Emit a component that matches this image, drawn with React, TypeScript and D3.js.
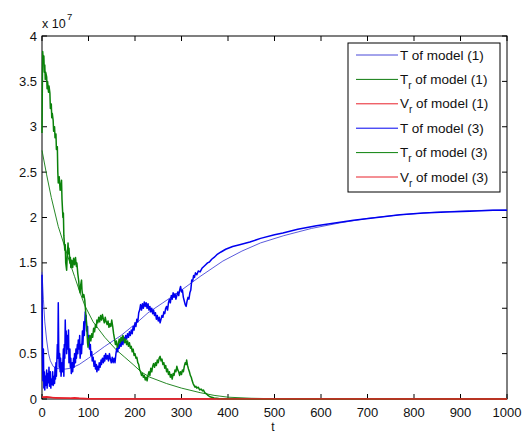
import React from "react";
import * as d3 from "d3";

const xTicks = [0, 100, 200, 300, 400, 500, 600, 700, 800, 900, 1000];
const yTicks = [0, 0.5, 1, 1.5, 2, 2.5, 3, 3.5, 4];
const yTickLabels = ["0", "0.5", "1", "1.5", "2", "2.5", "3", "3.5", "4"];
const legendMain = ["T", "T", "V", "T", "T", "V"];
const legendSub = ["", "r", "r", "", "r", "r"];
const legendTail = [" of model (1)", " of model (1)", " of model (1)", " of model (3)", " of model (3)", " of model (3)"];

// values in units of 1e7
const T1: [number, number][] = [
  [0, 1.4], [3, 1.1], [6, 0.85], [10, 0.65], [14, 0.5], [18, 0.42], [24, 0.36], [30, 0.34], [40, 0.33],
  [50, 0.33], [63, 0.34], [80, 0.38], [100, 0.45], [135, 0.58], [170, 0.7], [206, 0.85], [228, 0.95],
  [260, 1.06], [300, 1.2], [340, 1.35], [389, 1.52], [430, 1.63], [470, 1.72], [520, 1.8], [580, 1.88],
  [640, 1.94], [700, 1.99], [770, 2.03], [850, 2.06], [920, 2.075], [1000, 2.085],
];

const Tr1: [number, number][] = [
  [0, 2.74], [10, 2.47], [20, 2.22], [35, 1.9], [50, 1.66], [60, 1.5], [70, 1.35], [82, 1.17], [92, 1.03],
  [110, 0.85], [135, 0.68], [160, 0.54], [178, 0.46], [196, 0.38], [213, 0.3], [232, 0.24], [268, 0.17],
  [300, 0.12], [340, 0.07], [370, 0.04], [400, 0.02], [450, 0.008], [500, 0.003], [550, 0], [1000, 0],
];

const Vr1: [number, number][] = [
  [0, 0.02], [30, 0.015], [60, 0.008], [100, 0.004], [200, 0.001], [1000, 0.001],
];

const T3: [number, number][] = [
  [0, 1.37], [1, 0.45], [2, 0.2], [3, 0.55], [4, 0.12], [5, 0.3], [6, 0.1], [7, 0.25], [8, 0.15], [10, 0.32],
  [11, 0.12], [12, 0.28], [14, 0.18], [15, 0.35], [16, 0.14], [18, 0.3], [19, 0.12], [20, 0.22], [22, 0.16],
  [23, 0.3], [24, 0.15], [26, 0.25], [27, 0.17], [28, 0.35], [29, 0.22], [30, 0.4], [31, 0.25], [33, 0.6],
  [34, 0.45], [35, 1.06], [36, 0.55], [37, 0.35], [38, 0.5], [39, 0.3], [40, 0.45], [41, 0.25], [43, 0.4],
  [44, 0.3], [46, 0.55], [47, 0.25], [48, 0.6], [49, 0.45], [50, 0.87], [51, 0.6], [52, 0.75], [53, 0.5],
  [55, 0.7], [56, 0.55], [57, 0.76], [58, 0.4], [60, 0.55], [61, 0.35], [62, 0.45], [63, 0.28], [65, 0.4],
  [66, 0.3], [68, 0.45], [69, 0.35], [70, 0.5], [72, 0.4], [73, 0.55], [74, 0.45], [76, 0.6], [77, 0.5],
  [78, 0.65], [80, 0.55], [81, 0.7], [82, 0.45], [84, 0.6], [85, 0.5], [87, 0.75], [88, 0.6], [90, 0.85],
  [91, 0.7], [93, 0.96], [94, 0.85], [95, 0.92], [96, 0.75], [98, 0.8], [99, 0.6], [101, 0.7], [102, 0.55],
  [104, 0.6], [105, 0.48], [107, 0.52], [108, 0.42], [110, 0.46], [112, 0.36], [114, 0.42], [115, 0.33],
  [117, 0.38], [118, 0.3], [120, 0.36], [122, 0.32], [123, 0.4], [125, 0.35], [127, 0.43], [128, 0.38],
  [130, 0.45], [132, 0.4], [134, 0.48], [135, 0.42], [137, 0.5], [139, 0.44], [141, 0.48], [143, 0.42],
  [145, 0.5], [147, 0.44], [149, 0.4], [151, 0.46], [153, 0.4], [155, 0.45], [157, 0.4], [159, 0.5],
  [161, 0.56], [163, 0.52], [164, 0.6], [166, 0.56], [168, 0.62], [170, 0.58], [172, 0.66], [174, 0.6],
  [176, 0.68], [178, 0.63], [180, 0.7], [182, 0.66], [184, 0.72], [186, 0.68], [188, 0.74], [190, 0.7],
  [192, 0.76], [194, 0.72], [196, 0.8], [198, 0.76], [200, 0.84], [202, 0.8], [204, 0.88], [206, 0.85],
  [208, 0.95], [210, 0.98], [212, 1.04], [214, 0.98], [216, 1.05], [218, 1.0], [220, 1.07], [222, 1.02],
  [224, 1.06], [226, 1.0], [228, 1.05], [230, 0.98], [232, 1.02], [234, 0.96], [236, 1.0], [238, 0.94],
  [240, 0.98], [242, 0.92], [244, 0.95], [246, 0.88], [248, 0.92], [250, 0.86], [252, 0.9], [254, 0.84],
  [256, 0.88], [258, 0.92], [260, 0.9], [262, 0.96], [264, 0.94], [266, 1.0], [268, 1.02], [270, 0.98],
  [272, 1.06], [274, 1.1], [276, 1.06], [278, 1.14], [280, 1.1], [282, 1.17], [284, 1.12], [286, 1.16],
  [288, 1.1], [290, 1.14], [292, 1.18], [294, 1.14], [296, 1.2], [298, 1.24], [300, 1.18], [302, 1.2],
  [304, 1.12], [306, 1.08], [308, 1.04], [310, 1.02], [312, 1.08], [314, 1.12], [316, 1.1], [318, 1.17],
  [320, 1.2], [322, 1.31], [324, 1.3], [326, 1.36], [328, 1.34], [330, 1.39], [333, 1.37], [336, 1.41],
  [340, 1.4], [344, 1.44], [348, 1.46], [352, 1.48], [356, 1.5], [360, 1.51], [365, 1.54], [370, 1.56],
  [376, 1.59], [385, 1.62], [395, 1.65], [410, 1.68], [425, 1.7], [447, 1.73], [470, 1.77], [500, 1.81],
  [518, 1.83], [550, 1.87], [590, 1.91], [630, 1.94], [670, 1.97], [720, 2.0], [770, 2.03], [820, 2.05],
  [870, 2.06], [920, 2.07], [970, 2.08], [1000, 2.08],
];

const Tr3: [number, number][] = [
  [0, 2.93], [0.5, 3.3], [1, 3.6], [1.5, 3.83], [3, 3.7], [4, 3.78], [5, 3.6], [6, 3.68], [7, 3.52], [8, 3.6],
  [10, 3.55], [11, 3.42], [12, 3.5], [14, 3.38], [15, 3.45], [17, 3.37], [18, 3.2], [20, 3.25], [21, 3.1],
  [22, 3.15], [24, 3.07], [25, 2.95], [27, 3.0], [28, 2.88], [30, 2.92], [31, 2.75], [33, 2.78], [34, 2.5],
  [35, 2.38], [37, 2.45], [39, 2.3], [41, 2.36], [42, 2.41], [43, 2.2], [45, 2.0], [46, 2.05], [47, 1.8],
  [49, 1.64], [50, 1.7], [51, 1.5], [53, 1.42], [54, 1.55], [56, 1.72], [57, 1.6], [58, 1.66], [60, 1.5],
  [61, 1.56], [62, 1.45], [64, 1.53], [66, 1.45], [68, 1.55], [70, 1.48], [72, 1.56], [74, 1.46], [75, 1.5],
  [77, 1.38], [79, 1.3], [80, 1.22], [82, 1.17], [83, 1.25], [85, 1.31], [86, 1.2], [88, 1.12], [90, 1.15],
  [92, 1.09], [94, 0.95], [96, 0.82], [98, 0.62], [99, 0.57], [101, 0.66], [103, 0.7], [105, 0.64],
  [107, 0.72], [109, 0.68], [111, 0.78], [113, 0.74], [115, 0.82], [117, 0.79], [118, 0.87], [120, 0.84],
  [122, 0.9], [124, 0.85], [126, 0.92], [128, 0.87], [130, 0.93], [132, 0.88], [134, 0.84], [136, 0.9],
  [138, 0.85], [140, 0.82], [142, 0.86], [144, 0.79], [146, 0.83], [148, 0.8], [150, 0.87], [152, 0.8],
  [154, 0.72], [156, 0.66], [158, 0.6], [160, 0.64], [162, 0.57], [164, 0.6], [166, 0.66], [168, 0.62],
  [170, 0.68], [172, 0.64], [174, 0.7], [176, 0.66], [178, 0.62], [180, 0.66], [182, 0.6], [184, 0.64],
  [186, 0.58], [188, 0.62], [190, 0.56], [192, 0.58], [194, 0.52], [196, 0.55], [198, 0.48], [200, 0.5],
  [202, 0.45], [204, 0.46], [206, 0.4], [208, 0.38], [210, 0.32], [212, 0.3], [214, 0.26], [216, 0.28],
  [218, 0.24], [220, 0.26], [222, 0.21], [224, 0.24], [226, 0.2], [228, 0.26], [230, 0.3], [232, 0.26],
  [234, 0.34], [236, 0.3], [238, 0.36], [240, 0.39], [242, 0.35], [244, 0.4], [246, 0.37], [248, 0.43],
  [250, 0.4], [252, 0.45], [254, 0.47], [256, 0.42], [258, 0.44], [260, 0.38], [262, 0.4], [264, 0.34],
  [266, 0.37], [268, 0.3], [270, 0.33], [272, 0.27], [274, 0.3], [276, 0.24], [278, 0.27], [280, 0.22],
  [282, 0.28], [284, 0.26], [286, 0.32], [288, 0.3], [290, 0.36], [292, 0.32], [294, 0.3], [296, 0.26],
  [298, 0.3], [300, 0.27], [302, 0.32], [304, 0.3], [306, 0.36], [308, 0.4], [310, 0.38], [311, 0.43],
  [313, 0.37], [315, 0.33], [317, 0.3], [319, 0.26], [321, 0.24], [323, 0.2], [325, 0.17], [327, 0.15],
  [329, 0.13], [331, 0.14], [333, 0.12], [336, 0.13], [339, 0.1], [342, 0.11], [345, 0.09], [347, 0.1],
  [350, 0.07], [353, 0.06], [357, 0.04], [361, 0.025], [365, 0.02], [370, 0.012], [380, 0.006],
  [400, 0.003], [450, 0.001], [500, 0], [1000, 0],
];

const Vr3: [number, number][] = [
  [0, 0.02], [10, 0.025], [30, 0.01], [60, 0.01], [70, 0.015], [80, 0.008], [100, 0.003], [1000, 0],
];

const W = 524;
const H = 435;
const left = 42;
const right = 507;
const top = 36;
const bottom = 399;

const series = [
  { data: T1, color: "#4848d8", width: 0.9 },
  { data: Tr1, color: "#0e7a0e", width: 0.9 },
  { data: Vr1, color: "#e8202a", width: 1.4 },
  { data: T3, color: "#0000f0", width: 1.5 },
  { data: Tr3, color: "#0a820a", width: 1.5 },
  { data: Vr3, color: "#e8202a", width: 1.4 },
];

export default function App() {
  const x = d3.scaleLinear().domain([0, 1000]).range([left, right]);
  const y = d3.scaleLinear().domain([0, 4]).range([bottom, top]);
  const line = d3
    .line<[number, number]>()
    .x((d) => x(d[0]))
    .y((d) => y(d[1]));
  const font = "Liberation Sans, Arial, sans-serif";
  const tl = 5;
  const lgX = 348;
  const lgY = 43;
  const lgW = 152;
  const lgH = 149;
  return (
    <svg
      width={W}
      height={H}
      style={{ position: "absolute", left: 0, top: 0, background: "#fff" }}
      fontFamily={font}
    >
      <rect x={0} y={0} width={W} height={H} fill="#fff" />
      <rect x={left} y={top} width={right - left} height={bottom - top} fill="#fff" stroke="#000" strokeWidth={1} />
      {xTicks.map((t) => (
        <g key={"x" + t}>
          <line x1={x(t)} x2={x(t)} y1={bottom} y2={bottom - tl} stroke="#000" />
          <line x1={x(t)} x2={x(t)} y1={top} y2={top + tl} stroke="#000" />
          <text x={x(t)} y={417} fontSize={13} textAnchor="middle" fill="#111">
            {t}
          </text>
        </g>
      ))}
      {yTicks.map((v, i) => (
        <g key={"y" + v}>
          <line x1={left} x2={left + tl} y1={y(v)} y2={y(v)} stroke="#000" />
          <line x1={right} x2={right - tl} y1={y(v)} y2={y(v)} stroke="#000" />
          <text x={37} y={y(v) + 4.5} fontSize={13} textAnchor="end" fill="#111">
            {yTickLabels[i]}
          </text>
        </g>
      ))}
      <text x={42} y={28} fontSize={12.5} fill="#111">
        x 10
      </text>
      <text x={67} y={20} fontSize={9.5} fill="#111">
        7
      </text>
      <text x={273} y={431} fontSize={12} textAnchor="middle" fill="#111">
        t
      </text>
      {series.map((s, i) => (
        <path key={"s" + i} d={line(s.data) || ""} fill="none" stroke={s.color} strokeWidth={s.width} strokeLinejoin="round" />
      ))}
      <rect x={lgX} y={lgY} width={lgW} height={lgH} fill="#fff" stroke="#000" strokeWidth={1} />
      {legendMain.map((m, i) => {
        const cy = lgY + 12 + i * 24.4;
        return (
          <g key={"l" + i}>
            <line x1={356} x2={398} y1={cy} y2={cy} stroke={series[i].color} strokeWidth={1} />
            <text x={400} y={cy + 4.5} fontSize={13.5} fill="#111">
              {m}
              {legendSub[i] ? (
                <tspan fontSize={10} dy={5}>
                  {legendSub[i]}
                </tspan>
              ) : null}
              {legendSub[i] ? <tspan dy={-5}>{legendTail[i]}</tspan> : legendTail[i]}
            </text>
          </g>
        );
      })}
    </svg>
  );
}
